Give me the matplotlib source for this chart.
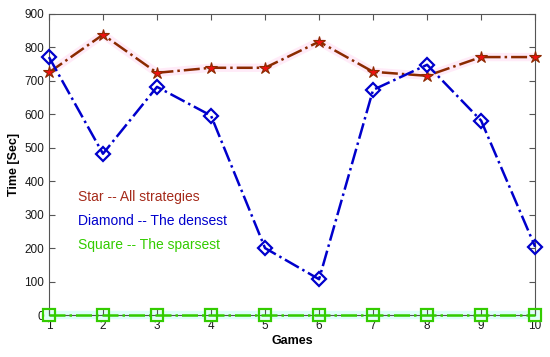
import matplotlib.pyplot as plt
import numpy as np

plt.rcParams['font.family'] = ['Liberation Sans', 'DejaVu Sans']

games = [1, 2, 3, 4, 5, 6, 7, 8, 9, 10]
star = [725, 838, 724, 739, 739, 817, 727, 715, 771, 771]
diamond = [771, 482, 682, 596, 200, 107, 673, 748, 581, 204]
square = [0, 0, 0, 0, 0, 0, 0, 0, 0, 0]

fig = plt.figure(figsize=(5.5, 3.57), dpi=100)
ax = fig.add_axes([0.089, 0.1176, 0.884, 0.8434])

# faint halos like the original rendering
ax.plot(games, star, color='#ffd8f2', lw=6, alpha=0.5, zorder=1)
ax.plot(games, square, color='#c8fff6', lw=6, alpha=0.6, zorder=1,
        clip_on=False)

ax.plot(games, star, color='#8b2a00', lw=1.8, ls='-.', marker='*',
        markersize=9, markerfacecolor='#ee1111', markeredgecolor='#8b2a00',
        markeredgewidth=0.8, zorder=4, clip_on=False)
ax.plot(games, diamond, color='#0000cc', lw=1.8, ls='-.', marker='D',
        markersize=7.5, markerfacecolor='none', markeredgecolor='#0000cc',
        markeredgewidth=1.6, zorder=4, clip_on=False)
ax.plot(games, square, color='#33cc00', lw=1.8, ls='-.', marker='s',
        markersize=8, markerfacecolor='none', markeredgecolor='#33cc00',
        markeredgewidth=1.6, zorder=4, clip_on=False)

ax.text(1.54, 353, 'Star -- All strategies', color='#a52a1a', fontsize=10,
        va='center', ha='left')
ax.text(1.54, 281, 'Diamond -- The densest', color='#0000cc', fontsize=10,
        va='center', ha='left')
ax.text(1.54, 209, 'Square -- The sparsest', color='#33cc00', fontsize=10,
        va='center', ha='left')

ax.set_xlim(1, 10)
ax.set_ylim(0, 900)
ax.set_xticks(games)
ax.set_yticks(np.arange(0, 901, 100))
ax.tick_params(direction='in', top=True, right=True, labelsize=8.5,
               colors='#555555', labelcolor='#1a1a1a', length=4)
for s in ax.spines.values():
    s.set_color('#555555')
    s.set_linewidth(0.8)
ax.set_xlabel('Games', fontsize=9, fontweight='bold', labelpad=2)
ax.set_ylabel('Time [Sec]', fontsize=9, fontweight='bold', labelpad=3)

fig.savefig('out.png', dpi=100)
